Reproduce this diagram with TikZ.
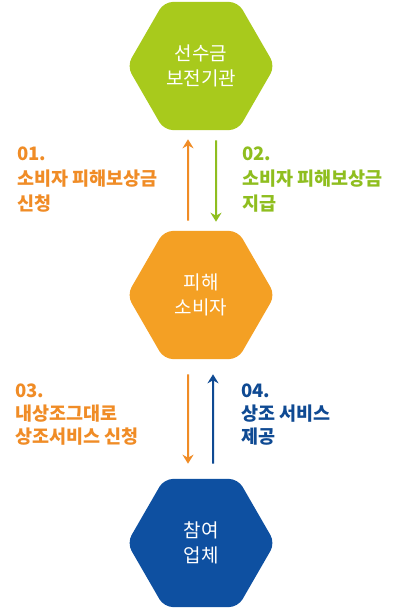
\documentclass[tikz,border=0pt]{standalone}
\usepackage{fontspec}
\setmainfont{Noto Sans CJK KR}
\usetikzlibrary{shapes.geometric,arrows.meta}
\definecolor{hexgreen}{HTML}{A8CA1C}
\definecolor{hexorange}{HTML}{F4A024}
\definecolor{hexblue}{HTML}{0E50A1}
\definecolor{txtgreen}{HTML}{8FBE1F}
\definecolor{txtorange}{HTML}{F08C26}
\definecolor{txtblue}{HTML}{0F4A93}
\tikzstyle{every picture}+=[x=1pt,y=-1pt]
\tikzstyle{every picture}+=[>={Stealth[length=9pt,width=11pt,inset=3pt]}]
\tikzstyle{hexa}=[regular polygon, regular polygon sides=6]
\tikzstyle{hexa}+=[minimum size=148pt, inner sep=0pt, rounded corners=9pt]
\tikzstyle{hexa}+=[text=white, align=center, font=\fontsize{19}{25}\selectfont]
\tikzstyle{lbl}=[anchor=west, align=left, inner sep=0pt]
\tikzstyle{flow}=[->, line width=2pt]

\begin{document}
\begin{tikzpicture}
\fill[white] (0,0) rectangle (400,609);
\useasboundingbox (0,0) rectangle (400,609);

\node[hexa, fill=hexgreen] (fund) at (201,66) {선수금\\보전기관};
\node[hexa, fill=hexorange] (victim) at (201,295) {피해\\소비자};
\node[hexa, fill=hexblue] (firm) at (201,543) {참여\\업체};

\node[lbl, text=txtorange, font=\fontsize{18.5}{25}\selectfont\bfseries] (l1) at (17,180) {01.\\소비자 피해보상금\\신청};
\node[lbl, text=txtgreen, font=\fontsize{18.5}{25}\selectfont\bfseries] (l2) at (242,180) {02.\\소비자 피해보상금\\지급};
\node[lbl, text=txtorange, font=\fontsize{18.5}{23}\selectfont\bfseries] (l3) at (15,415) {03.\\내상조그대로\\상조서비스 신청};
\node[lbl, text=txtblue, font=\fontsize{18.5}{23}\selectfont\bfseries] (l4) at (241,415) {04.\\상조 서비스\\제공};

\path[flow, shorten <=10pt, shorten >=9pt]
  ([xshift=-13pt]victim.north) edge[draw=txtorange] ([xshift=-13pt]fund.south)
  ([xshift=15pt]fund.south) edge[draw=txtgreen] ([xshift=15pt]victim.north)
  ;
\path[flow, shorten <=15pt, shorten >=15pt]
  ([xshift=-13pt]victim.south) edge[draw=txtorange] ([xshift=-13pt]firm.north)
  ([xshift=12pt]firm.north) edge[draw=txtblue] ([xshift=12pt]victim.south)
  ;
\end{tikzpicture}
\end{document}
